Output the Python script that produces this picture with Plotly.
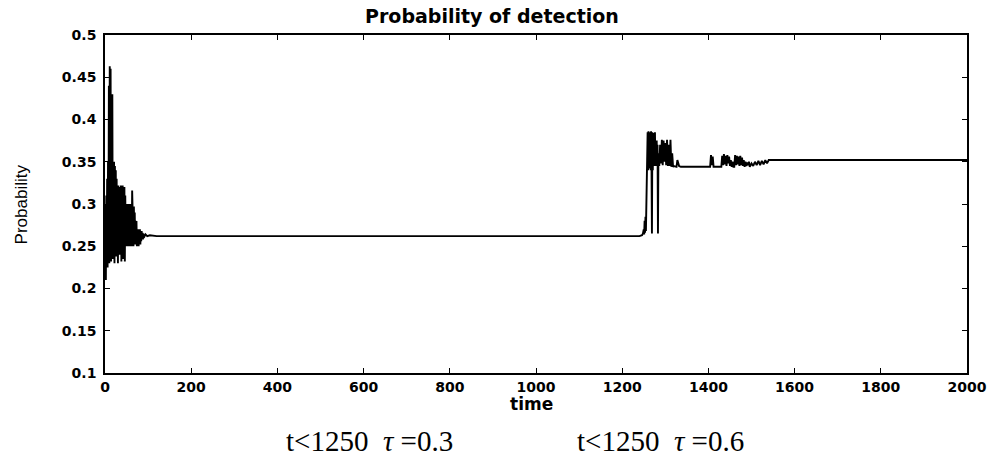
import plotly.graph_objects as go

# Probability of detection over time (simulation trace).
# Flat stretches are stored as their end points only; oscillating parts are listed sample by sample.

t_start = list(range(0, 91)) + [94, 98, 104]
p_start = [0.30, 0.22, 0.21, 0.31, 0.24, 0.33, 0.225, 0.35, 0.245, 0.44,
           0.23, 0.463, 0.25, 0.46, 0.232, 0.43, 0.26, 0.43, 0.235, 0.35,
           0.26, 0.35, 0.23, 0.345, 0.27, 0.34, 0.238, 0.33, 0.255, 0.32,
           0.23, 0.322, 0.26, 0.31, 0.24, 0.32, 0.265, 0.322, 0.232, 0.31,
           0.26, 0.322, 0.235, 0.30, 0.27, 0.32, 0.232, 0.31, 0.26, 0.30,
           0.25, 0.29, 0.265, 0.30, 0.25, 0.29, 0.27, 0.30, 0.25, 0.29,
           0.26, 0.30, 0.25, 0.316, 0.265, 0.29, 0.25, 0.297, 0.26, 0.29,
           0.252, 0.28, 0.265, 0.28, 0.25, 0.27, 0.26, 0.27, 0.25, 0.27,
           0.257, 0.27, 0.252, 0.268, 0.256, 0.268, 0.258, 0.266, 0.258, 0.265,
           0.26, 0.264, 0.262, 0.263]

t_plateau1 = [120, 1240]
p_plateau1 = [0.262, 0.262]

t_switch = [1246, 1248, 1250, 1251, 1252, 1253, 1254, 1255, 1256, 1257, 1258, 1259,
            1260, 1261, 1262, 1263, 1264, 1265, 1266, 1267, 1268, 1269, 1270, 1271,
            1272, 1273, 1274, 1275, 1276, 1277, 1278, 1279, 1280, 1281, 1282, 1283,
            1284, 1286, 1288, 1290, 1292, 1294, 1296, 1298, 1300, 1302, 1304, 1306,
            1308, 1310, 1312, 1314, 1316, 1318, 1320, 1326, 1328, 1332, 1336]
p_switch = [0.263, 0.265, 0.27, 0.264, 0.28, 0.266, 0.285, 0.268, 0.30, 0.34, 0.35, 0.385,
            0.34, 0.386, 0.342, 0.385, 0.345, 0.384, 0.34, 0.386, 0.345, 0.265, 0.385,
            0.34, 0.384, 0.345, 0.38, 0.346, 0.385, 0.345, 0.37, 0.346, 0.375, 0.345,
            0.37, 0.265, 0.36, 0.345, 0.37, 0.348, 0.376, 0.346, 0.375, 0.35, 0.372,
            0.346, 0.376, 0.345, 0.37, 0.345, 0.376, 0.344, 0.36, 0.344, 0.345, 0.344,
            0.352, 0.345, 0.344]

t_plateau2 = [1400]
p_plateau2 = [0.344]

t_ripple = [1404, 1406, 1408, 1410, 1412, 1430, 1432, 1434, 1436, 1438, 1440, 1442, 1444,
            1446, 1448, 1450, 1452, 1454, 1456, 1458, 1460, 1462, 1464, 1466, 1468, 1470,
            1472, 1474, 1476, 1478, 1480, 1482, 1484, 1486, 1488, 1490, 1492, 1494, 1496,
            1500, 1504, 1508, 1512, 1516, 1520, 1524, 1528, 1532, 1536, 1540, 1545]
p_ripple = [0.344, 0.358, 0.346, 0.356, 0.344, 0.344, 0.357, 0.346, 0.359, 0.347, 0.357,
            0.345, 0.358, 0.348, 0.356, 0.345, 0.352, 0.344, 0.350, 0.344, 0.344, 0.358,
            0.346, 0.357, 0.347, 0.356, 0.345, 0.357, 0.346, 0.355, 0.345, 0.352, 0.344,
            0.350, 0.345, 0.349, 0.346, 0.350, 0.344, 0.348, 0.345, 0.350, 0.346, 0.351,
            0.346, 0.351, 0.347, 0.352, 0.348, 0.352, 0.352]

t_final = [2000]
p_final = [0.352]

time = t_start + t_plateau1 + t_switch + t_plateau2 + t_ripple + t_final
prob = p_start + p_plateau1 + p_switch + p_plateau2 + p_ripple + p_final

x_ticks = [0, 200, 400, 600, 800, 1000, 1200, 1400, 1600, 1800, 2000]
y_ticks = [0.1, 0.15, 0.2, 0.25, 0.3, 0.35, 0.4, 0.45, 0.5]
y_tick_text = ["0.1", "0.15", "0.2", "0.25", "0.3", "0.35", "0.4", "0.45", "0.5"]

fig = go.Figure()
fig.add_trace(go.Scatter(x=time, y=prob, mode="lines",
                         line=dict(color="black", width=1.9), showlegend=False))

tick_font = dict(family="DejaVu Sans", size=14, color="black", weight="bold")
axis_common = dict(showline=True, linecolor="black", linewidth=1.6, mirror="ticks",
                   ticks="inside", ticklen=5, tickwidth=1.2, tickcolor="black",
                   showgrid=False, zeroline=False, tickfont=tick_font)

fig.update_xaxes(range=[0, 2000], tickvals=x_ticks,
                 ticktext=[str(v) for v in x_ticks], **axis_common)
fig.update_yaxes(range=[0.1, 0.5], tickvals=y_ticks, ticktext=y_tick_text,
                 ticklabelstandoff=4, **axis_common)

fig.update_layout(
    width=1000, height=459,
    margin=dict(l=105, r=33, t=35, b=86),
    paper_bgcolor="white", plot_bgcolor="white",
    title=dict(text="Probability of detection", x=0.492, xanchor="center",
               y=1 - 16 / 459, yanchor="middle",
               font=dict(family="DejaVu Sans", size=19, color="black", weight="bold")),
)

fig.add_annotation(text="Probability", xref="paper", yref="paper", x=-0.097, y=0.5,
                   textangle=-90, showarrow=False, xanchor="center", yanchor="middle",
                   font=dict(family="Liberation Sans Narrow, Liberation Sans", size=17,
                             color="black"))
fig.add_annotation(text="time", xref="paper", yref="paper", x=0.495, y=-0.092,
                   showarrow=False, xanchor="center", yanchor="middle",
                   font=dict(family="DejaVu Sans", size=17, color="black", weight="bold"))

serif = dict(family="Liberation Serif", size=29, color="black")
fig.add_annotation(text="t&lt;1250&nbsp;&nbsp;<i>τ</i> =0.3", xref="paper", yref="paper",
                   x=0.307, y=-0.201, showarrow=False, xanchor="center", yanchor="middle",
                   font=serif)
fig.add_annotation(text="t&lt;1250&nbsp;&nbsp;<i>τ</i> =0.6", xref="paper", yref="paper",
                   x=0.644, y=-0.201, showarrow=False, xanchor="center", yanchor="middle",
                   font=serif)

fig.write_html("out.html")
